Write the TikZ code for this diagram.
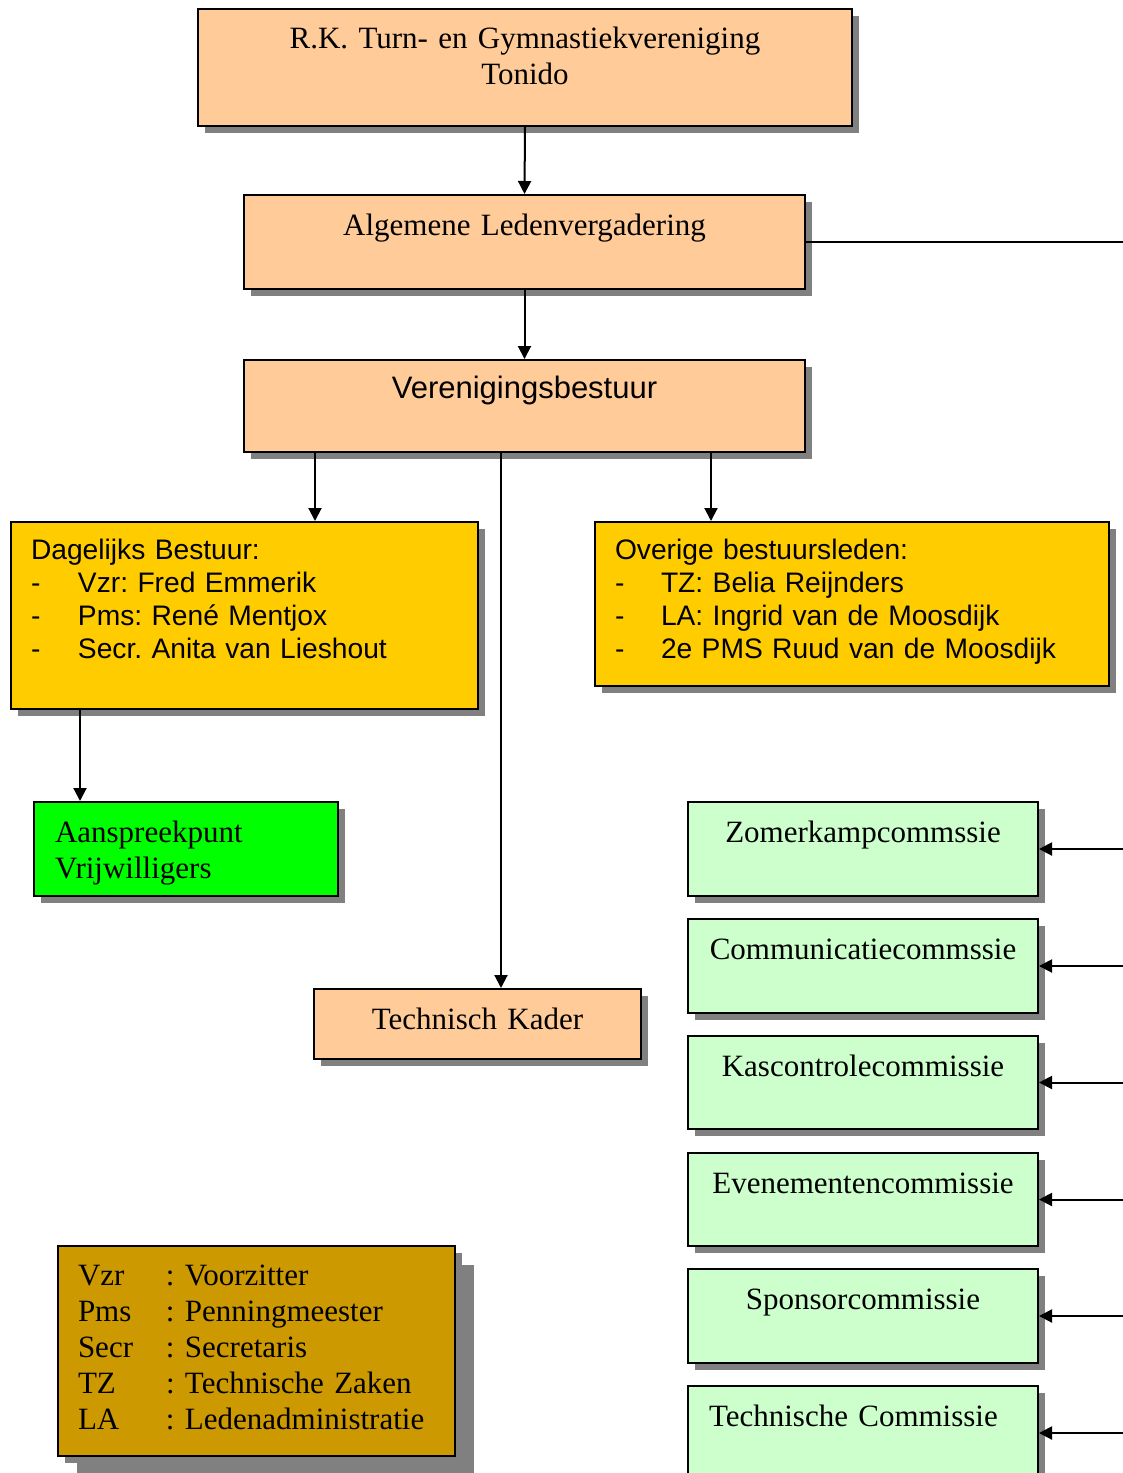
\documentclass[tikz,border=0pt]{standalone}
\usepackage{fontspec}
\setmainfont{Liberation Serif}
\setsansfont{Liberation Sans}
\usetikzlibrary{arrows.meta}
\usetikzlibrary{shadows}
\frenchspacing
\hyphenpenalty=10000
\exhyphenpenalty=10000

\definecolor{peach}{HTML}{FFCC99}
\definecolor{gold}{HTML}{FFCC00}
\definecolor{brightgreen}{HTML}{00FF00}
\definecolor{palegreen}{HTML}{CCFFCC}
\definecolor{ochre}{HTML}{CC9900}
\definecolor{shadowgray}{HTML}{808080}

\begin{document}
\begin{tikzpicture}[x=1pt, y=-1pt, line width=2pt,
    box/.style={draw=black, anchor=north west, inner ysep=0pt,
        drop shadow={shadow xshift=7pt, shadow yshift=-7pt, fill=shadowgray, opacity=1}},
    serif/.style={font=\rmfamily\frenchspacing\fontsize{31}{36}\selectfont},
    sans/.style={font=\sffamily\frenchspacing\fontsize{31}{36}\selectfont},
    smallsans/.style={font=\sffamily\frenchspacing\fontsize{28.2}{33}\selectfont},
    arr/.style={-{Triangle[length=13pt, width=13pt]}}]
            \useasboundingbox (0,0) rectangle (1123,1473);

            % draw upper boxes
            \node[box, serif, fill=peach, text width=614pt, inner xsep=20pt, align=center,
                  text height=39pt, text depth=78pt] (tonido) at (197,8)
                 {R.K. Turn- en Gymnastiekvereniging\\Tonido};
            \node[box, serif, fill=peach, text width=521pt, inner xsep=20pt, align=center,
                  text height=40pt, text depth=54pt] (alv) at (243,194)
                 {Algemene Ledenvergadering};
            \node[box, sans, fill=peach, text width=521pt, inner xsep=20pt, align=center,
                  text height=38pt, text depth=54pt] (bestuur) at (243,359)
                 {Verenigingsbestuur};

            % draw board members
            \node[box, smallsans, fill=gold, text width=427pt, inner xsep=20pt, align=left,
                  text height=37pt, text depth=150pt] (dagelijks) at (10,521)
                 {Dagelijks Bestuur:\\
                  \makebox[47pt][l]{-}Vzr: Fred Emmerik\\
                  \makebox[47pt][l]{-}Pms: René Mentjox\\
                  \makebox[47pt][l]{-}Secr. Anita van Lieshout};
            \node[box, smallsans, fill=gold, text width=474pt, inner xsep=20pt, align=left,
                  text height=37pt, text depth=127pt] (overige) at (594,521)
                 {Overige bestuursleden:\\
                  \makebox[46pt][l]{-}TZ: Belia Reijnders\\
                  \makebox[46pt][l]{-}LA: Ingrid van de Moosdijk\\
                  \makebox[46pt][l]{-}2e PMS Ruud van de Moosdijk};

            \node[box, serif, fill=brightgreen, text width=262pt, inner xsep=21pt, align=left,
                  text height=40pt, text depth=54pt] (vrijwilligers) at (33,801)
                 {Aanspreekpunt\\Vrijwilligers};
            \node[box, serif, fill=peach, text width=307pt, inner xsep=10pt, align=center,
                  text height=40pt, text depth=30pt] (kader) at (313,988)
                 {Technisch Kader};

            % draw commissions
            \node[box, serif, fill=palegreen, text width=330pt, inner xsep=10pt, align=center,
                  text height=40pt, text depth=54pt] (zomerkamp) at (687,801)
                 {Zomerkampcommssie};
            \node[box, serif, fill=palegreen, text width=330pt, inner xsep=10pt, align=center,
                  text height=40pt, text depth=54pt] (communicatie) at (687,918)
                 {Communicatiecommssie};
            \node[box, serif, fill=palegreen, text width=330pt, inner xsep=10pt, align=center,
                  text height=40pt, text depth=53pt] (kascontrole) at (687,1035)
                 {Kascontrolecommissie};
            \node[box, serif, fill=palegreen, text width=330pt, inner xsep=10pt, align=center,
                  text height=40pt, text depth=53pt] (evenementen) at (687,1152)
                 {Evenementencommissie};
            \node[box, serif, fill=palegreen, text width=330pt, inner xsep=10pt, align=center,
                  text height=40pt, text depth=54pt] (sponsor) at (687,1268)
                 {Sponsorcommissie};
            \node[box, serif, fill=palegreen, text width=308pt, inner xsep=21pt, align=left,
                  text height=40pt, text depth=54pt] (technische) at (687,1385)
                 {Technische Commissie};

            % draw legend
            \node[box, serif, fill=ochre, text width=357pt, inner xsep=20pt, align=left,
                  text height=39pt, text depth=171pt,
                  drop shadow={shadow xshift=19pt, shadow yshift=-19pt, fill=shadowgray, opacity=1}]
                  (legenda) at (57,1245)
                 {\makebox[88pt][l]{Vzr}: Voorzitter\\
                  \makebox[88pt][l]{Pms}: Penningmeester\\
                  \makebox[88pt][l]{Secr}: Secretaris\\
                  \makebox[88pt][l]{TZ}: Technische Zaken\\
                  \makebox[88pt][l]{LA}: Ledenadministratie};

            % draw connectors
            \coordinate (rim) at (1123,0);
            \coordinate (dagx) at (80,0);
            \draw[arr] (tonido.south) -- (alv.north);
            \draw[arr] (alv.south) -- (bestuur.north);
            \draw (alv.east) -- (alv.east -| rim);
            \draw[arr] ([xshift=-209.5pt]bestuur.south) -- ([xshift=-209.5pt]bestuur.south |- dagelijks.north);
            \draw[arr] ([xshift=186.5pt]bestuur.south) -- ([xshift=186.5pt]bestuur.south |- overige.north);
            \draw[arr] ([xshift=-23.5pt]bestuur.south) -- ([xshift=-23.5pt]bestuur.south |- kader.north);
            \draw[arr] (dagelijks.south -| dagx) -- (vrijwilligers.north -| dagx);

            \draw[arr] (zomerkamp.east -| rim) -- (zomerkamp.east);
            \draw[arr] (communicatie.east -| rim) -- (communicatie.east);
            \draw[arr] (kascontrole.east -| rim) -- (kascontrole.east);
            \draw[arr] (evenementen.east -| rim) -- (evenementen.east);
            \draw[arr] (sponsor.east -| rim) -- (sponsor.east);
            \draw[arr] (technische.east -| rim) -- (technische.east);
        \end{tikzpicture}
\end{document}
